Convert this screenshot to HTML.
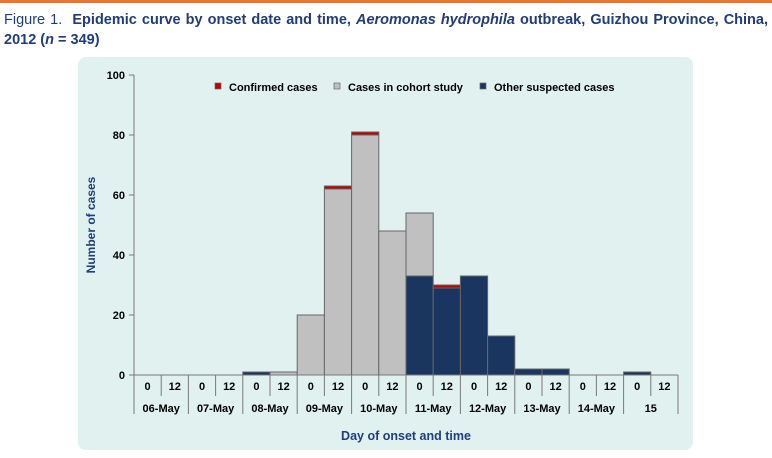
<!DOCTYPE html>
<html><head><style>
body{margin:0;width:772px;height:458px;background:#fff;overflow:hidden;font-family:"Liberation Sans",sans-serif}
</style></head><body>
<div style="position:absolute;left:0;top:0;width:772px;height:3px;background:#e8762b"></div>
<div style="position:absolute;left:4px;top:10px;width:764px;font-size:14.5px;line-height:20px;color:#1f3d7a;text-align:justify">
<span style="font-weight:normal">Figure 1.</span>&nbsp; <b>Epidemic curve by onset date and time, <i>Aeromonas hydrophila</i> outbreak, Guizhou Province, China, 2012 (<i>n</i> = 349)</b></div>
<svg style="position:absolute;left:0;top:0" width="772" height="458">
<rect x="78" y="57" width="615" height="393" rx="8" fill="#e1f1f0"/>
<g font-family="Liberation Sans" font-weight="bold" font-size="11" fill="#000">
<line x1="134" y1="75" x2="134" y2="375" stroke="#777"/>
<g stroke="#777"><line x1="129" y1="75" x2="134" y2="75"/><line x1="129" y1="135" x2="134" y2="135"/><line x1="129" y1="195" x2="134" y2="195"/><line x1="129" y1="255" x2="134" y2="255"/><line x1="129" y1="315" x2="134" y2="315"/><line x1="129" y1="375" x2="134" y2="375"/></g>
<text x="125" y="79" text-anchor="end">100</text><text x="125" y="139" text-anchor="end">80</text><text x="125" y="199" text-anchor="end">60</text><text x="125" y="259" text-anchor="end">40</text><text x="125" y="319" text-anchor="end">20</text><text x="125" y="379" text-anchor="end">0</text>
<text transform="translate(95,225) rotate(-90)" text-anchor="middle" fill="#1f3d7a" font-size="12">Number of cases</text>
<g stroke="#666" stroke-width="1">
<rect x="242.8" y="372" width="27.2" height="3" fill="#1a3660"/>
<rect x="270" y="372" width="27.2" height="3" fill="#c0c0c0"/>
<rect x="297.2" y="315" width="27.2" height="60" fill="#c0c0c0"/>
<rect x="324.4" y="189" width="27.2" height="186" fill="#c0c0c0"/>
<rect x="324.4" y="186" width="27.2" height="3" fill="#c00000"/>
<rect x="351.6" y="135" width="27.2" height="240" fill="#c0c0c0"/>
<rect x="351.6" y="132" width="27.2" height="3" fill="#c00000"/>
<rect x="378.8" y="231" width="27.2" height="144" fill="#c0c0c0"/>
<rect x="406" y="276" width="27.2" height="99" fill="#1a3660"/>
<rect x="406" y="213" width="27.2" height="63" fill="#c0c0c0"/>
<rect x="433.2" y="288" width="27.2" height="87" fill="#1a3660"/>
<rect x="433.2" y="285" width="27.2" height="3" fill="#c00000"/>
<rect x="460.4" y="276" width="27.2" height="99" fill="#1a3660"/>
<rect x="487.6" y="336" width="27.2" height="39" fill="#1a3660"/>
<rect x="514.8" y="369" width="27.2" height="6" fill="#1a3660"/>
<rect x="542" y="369" width="27.2" height="6" fill="#1a3660"/>
<rect x="623.6" y="372" width="27.2" height="3" fill="#1a3660"/>
</g>
<line x1="134" y1="375" x2="678" y2="375" stroke="#777"/>
<g text-anchor="middle">
<text x="147.6" y="390">0</text><text x="174.8" y="390">12</text><text x="202" y="390">0</text><text x="229.2" y="390">12</text><text x="256.4" y="390">0</text><text x="283.6" y="390">12</text><text x="310.8" y="390">0</text><text x="338" y="390">12</text><text x="365.2" y="390">0</text><text x="392.4" y="390">12</text><text x="419.6" y="390">0</text><text x="446.8" y="390">12</text><text x="474" y="390">0</text><text x="501.2" y="390">12</text><text x="528.4" y="390">0</text><text x="555.6" y="390">12</text><text x="582.8" y="390">0</text><text x="610" y="390">12</text><text x="637.2" y="390">0</text><text x="664.4" y="390">12</text>
<text x="161.2" y="412">06-May</text><text x="215.6" y="412">07-May</text><text x="270" y="412">08-May</text><text x="324.4" y="412">09-May</text><text x="378.8" y="412">10-May</text><text x="433.2" y="412">11-May</text><text x="487.6" y="412">12-May</text><text x="542" y="412">13-May</text><text x="596.4" y="412">14-May</text><text x="650.8" y="412">15</text>
<text x="406" y="440" fill="#1f3d7a" font-size="12.5">Day of onset and time</text>
</g>
<g stroke="#777">
<line x1="134" y1="375" x2="134" y2="414"/><line x1="188.4" y1="375" x2="188.4" y2="414"/><line x1="242.8" y1="375" x2="242.8" y2="414"/><line x1="297.2" y1="375" x2="297.2" y2="414"/><line x1="351.6" y1="375" x2="351.6" y2="414"/><line x1="406" y1="375" x2="406" y2="414"/><line x1="460.4" y1="375" x2="460.4" y2="414"/><line x1="514.8" y1="375" x2="514.8" y2="414"/><line x1="569.2" y1="375" x2="569.2" y2="414"/><line x1="623.6" y1="375" x2="623.6" y2="414"/><line x1="678" y1="375" x2="678" y2="414"/>
<line x1="161.2" y1="375" x2="161.2" y2="396"/><line x1="215.6" y1="375" x2="215.6" y2="396"/><line x1="270" y1="375" x2="270" y2="396"/><line x1="324.4" y1="375" x2="324.4" y2="396"/><line x1="378.8" y1="375" x2="378.8" y2="396"/><line x1="433.2" y1="375" x2="433.2" y2="396"/><line x1="487.6" y1="375" x2="487.6" y2="396"/><line x1="542" y1="375" x2="542" y2="396"/><line x1="596.4" y1="375" x2="596.4" y2="396"/><line x1="650.8" y1="375" x2="650.8" y2="396"/>
</g>
<rect x="215" y="83" width="6" height="6" fill="#c00000" stroke="#666" stroke-width="0.7"/><text x="229" y="91">Confirmed cases</text>
<rect x="334" y="83" width="6" height="6" fill="#c0c0c0" stroke="#666" stroke-width="0.7"/><text x="348" y="91">Cases in cohort study</text>
<rect x="480" y="83" width="6" height="6" fill="#1a3660" stroke="#666" stroke-width="0.7"/><text x="494" y="91">Other suspected cases</text>
</g>
</svg>
</body></html>
